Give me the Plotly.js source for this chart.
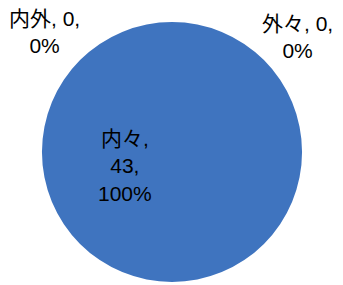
<!DOCTYPE html>
<html>
<head>
<meta charset="utf-8">
<script src="https://cdn.plot.ly/plotly-3.0.1.min.js"></script>
<style>html,body{margin:0;padding:0;background:#fff;}#chart{width:343px;height:285px;}</style>
</head>
<body>
<div id="chart"></div>
<script>
var labels = ['内々', '内外', '外々'];
var values = [43, 0, 0];

var total = values.reduce(function(a, b){ return a + b; }, 0);
function pct(v){ return Math.round(v / total * 100) + '%'; }

// label placements (paper coords) for each category
var labelPos = [
  {x: 125 / 343, y: 1 - 166 / 285},
  {x: 44 / 343, y: 1 - 32 / 285},
  {x: 297 / 343, y: 1 - 37 / 285}
];

var texts = labels.map(function(l, i){
  if (i === 0) return l + ',<br>' + values[i] + ',<br>' + pct(values[i]);
  return l + ', ' + values[i] + ',<br>' + pct(values[i]);
});

var annotations = labels.map(function(l, i){
  return {
    xref: 'paper', yref: 'paper',
    x: labelPos[i].x, y: labelPos[i].y,
    xanchor: 'center', yanchor: 'middle',
    text: texts[i], showarrow: false, align: 'center',
    font: {family: 'Liberation Sans, Noto Sans CJK JP, sans-serif', size: 21, color: '#000'}
  };
});

var trace = {
  type: 'pie',
  labels: labels,
  values: values,
  sort: false,
  direction: 'clockwise',
  rotation: 0,
  textinfo: 'none',
  hoverinfo: 'label+value+percent',
  marker: {colors: ['#3f74bf', '#c0504d', '#9bbb59'], line: {width: 0}},
  domain: {x: [42 / 343, 302 / 343], y: [3 / 285, 263 / 285]},
  showlegend: false
};

var layout = {
  width: 343, height: 285,
  margin: {l: 0, r: 0, t: 0, b: 0},
  paper_bgcolor: '#ffffff',
  showlegend: false,
  annotations: annotations
};

Plotly.newPlot('chart', [trace], layout, {displayModeBar: false, staticPlot: true});
</script>
</body>
</html>
